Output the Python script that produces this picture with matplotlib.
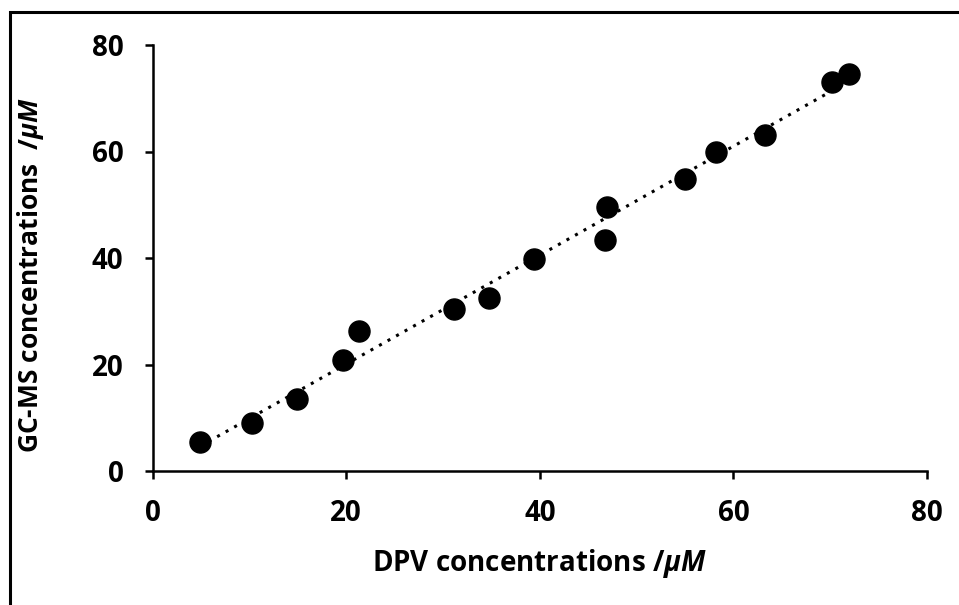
import matplotlib
matplotlib.use('Agg')
import matplotlib.pyplot as plt
import matplotlib.patches as patches
import numpy as np

plt.rcParams['font.family'] = ['Open Sans', 'DejaVu Sans']
plt.rcParams['font.weight'] = 'bold'
plt.rcParams['mathtext.fontset'] = 'custom'
plt.rcParams['mathtext.it'] = 'Open Sans:bold:italic'

# DPV vs GC-MS concentrations (uM)
dpv = [4.9, 10.3, 14.9, 19.7, 21.3, 31.1, 34.7, 39.4, 46.9, 46.7, 55.0, 58.2, 63.3, 70.2, 71.9]
gcms = [5.5, 9.1, 13.5, 20.8, 26.2, 30.4, 32.5, 39.8, 49.6, 43.4, 54.8, 60.0, 63.1, 73.0, 74.6]

fig = plt.figure(figsize=(9.59, 6.05), dpi=100)
ax = fig.add_axes([152.7 / 959, 1 - 471 / 605, (927 - 152.7) / 959, (471 - 45) / 605])

# outer frame (only top and left edges fall inside the image)
fig.patches.append(patches.Rectangle((10 / 959, -0.1), 1.2, 1 - 12 / 605 + 0.1,
                                     transform=fig.transFigure, fill=False,
                                     edgecolor='black', linewidth=2.2))

# linear trendline
k, b = np.polyfit(dpv, gcms, 1)
xs = np.array([min(dpv), max(dpv)])
ax.plot(xs, k * xs + b, linestyle=(0, (1, 2.2)), color='black', linewidth=2.2, zorder=2)

ax.scatter(dpv, gcms, s=230, color='black', zorder=3)

ax.set_xlim(0, 80)
ax.set_ylim(0, 80)
ax.set_xticks([0, 20, 40, 60, 80])
ax.set_yticks([0, 20, 40, 60, 80])

for side in ['top', 'right']:
    ax.spines[side].set_visible(False)
for side in ['left', 'bottom']:
    ax.spines[side].set_linewidth(1.8)
ax.tick_params(direction='out', length=6, width=1.8, labelsize=20)
ax.tick_params(axis='y', pad=15)
ax.tick_params(axis='x', pad=14)
for lab in ax.get_xticklabels() + ax.get_yticklabels():
    lab.set_fontweight('bold')

ax.set_xlabel(r'DPV concentrations /$\mathit{\mu M}$', fontsize=20, fontweight='bold', labelpad=14)
ax.set_ylabel(r'GC-MS concentrations  /$\mathit{\mu M}$', fontsize=19, fontweight='bold')
ax.yaxis.set_label_coords(-0.138, 0.46)

fig.savefig('out.png', dpi=100)
